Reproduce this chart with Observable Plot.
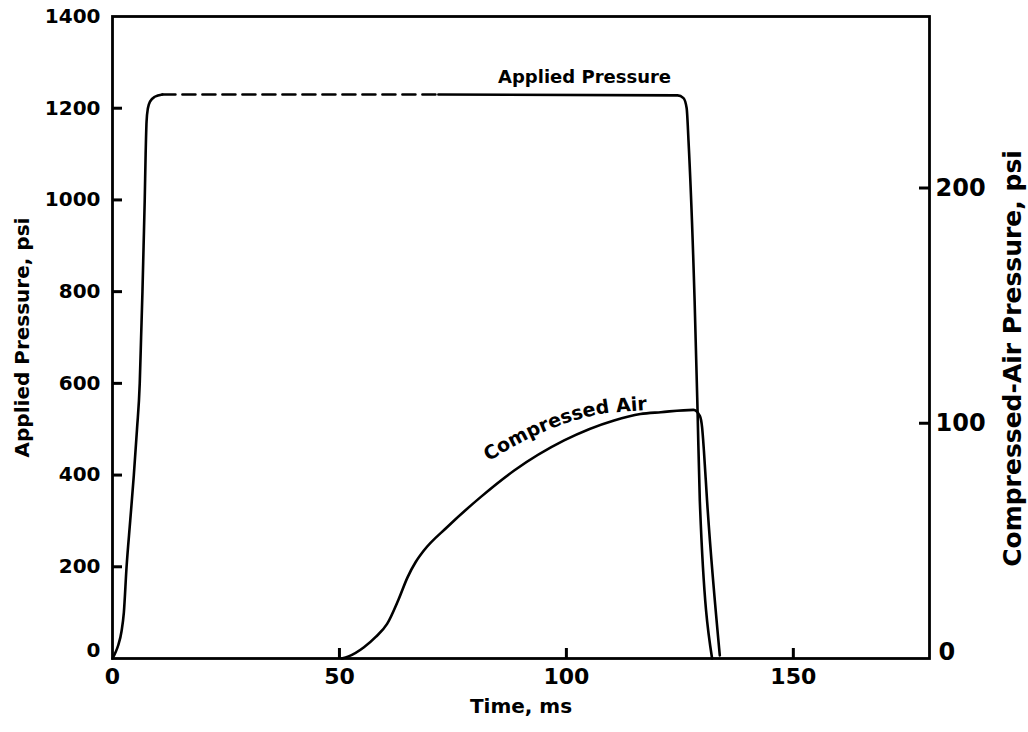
<!DOCTYPE html>
<html>
<head>
<meta charset="utf-8">
<script src="https://cdn.jsdelivr.net/npm/d3@7"></script>
<script src="https://cdn.jsdelivr.net/npm/@observablehq/plot@0.6"></script>
<style>
  html, body { margin: 0; padding: 0; background: #fff; }
</style>
</head>
<body>
<div id="chart"></div>
<script>
// ---- Data ----
const appliedTime = [0, 0.6, 1.3, 2.0, 2.5, 3.1, 3.9, 4.7, 5.4, 6.0, 6.3, 6.6, 6.85, 7.1, 7.3, 7.5, 7.8, 8.3, 9.3, 11, 71.8, 124.5, 125.8, 126.5, 126.9, 128.25, 128.9, 129.4, 132.1];
const appliedPsi  = [0, 12, 30, 60, 100, 200, 300, 400, 500, 600, 700, 800, 900, 1000, 1100, 1170, 1200, 1215, 1225, 1230, 1230, 1228, 1222, 1200, 1130, 780, 540, 343, 0];

const airTime = [50.5, 52, 55.4, 58, 60.5, 63.0, 65.0, 66.8, 68.6, 73.7, 81.1, 88.5, 99.5, 110.5, 116.3, 120.8, 128.0, 129.4, 129.9, 130.3, 131.0, 133.8];
const airPsi  = [0, 0.9, 4.8, 9.2, 14.7, 25.0, 34.5, 41.0, 45.9, 55.8, 68.6, 79.9, 92.7, 101.2, 103.9, 104.7, 105.7, 103.1, 98.2, 88.3, 66.9, 1.3];

const leftTicks  = [0, 200, 400, 600, 800, 1000, 1200, 1400];
const rightTicks = [0, 100, 200];
const timeTicks  = [0, 50, 100, 150];

// right axis (compressed-air psi) expressed on the left axis scale
const airToApplied = 5.13;

const xTitle = "Time, ms";
const yTitle = "Applied Pressure, psi";
const y2Title = "Compressed-Air Pressure, psi";
const appliedLabel = "Applied Pressure";
const airLabel = "Compressed Air";

// ---- Build tables ----
const applied = appliedTime.map((t, i) => ({t, v: appliedPsi[i]}));
const air = airTime.map((t, i) => ({t, v: airPsi[i] * airToApplied}));

const font = "DejaVu Sans, sans-serif";
const lw = 2.6;
const W = 1028, H = 732, mL = 112, mR = 99, mT = 16, mB = 74;
const frameW = W - mL - mR, frameH = H - mT - mB;
const xDomain = [0, 180], yDomain = [0, 1400];
const tickPx = 10;
// tick length converted to data units of each scale
const tickX = tickPx * (xDomain[1] - xDomain[0]) / frameW;
const tickYu = tickPx * (yDomain[1] - yDomain[0]) / frameH;

const chart = Plot.plot({
  width: W,
  height: H,
  marginLeft: mL,
  marginRight: mR,
  marginTop: mT,
  marginBottom: mB,
  x: {domain: xDomain, axis: null},
  y: {domain: yDomain, axis: null},
  style: {fontFamily: font, fontWeight: "bold", background: "white", color: "black"},
  marks: [
    Plot.frame({stroke: "black", strokeWidth: 2.8}),

    // inward tick marks
    Plot.ruleY(leftTicks.filter(d => d > 0 && d < 1400), {y: d => d, x1: xDomain[0], x2: xDomain[0] + tickX, stroke: "black", strokeWidth: 3}),
    Plot.ruleY(rightTicks.filter(d => d > 0), {y: d => d * airToApplied, x1: xDomain[1] - tickX, x2: xDomain[1], stroke: "black", strokeWidth: 3}),
    Plot.ruleX(timeTicks.filter(d => d > 0), {x: d => d, y1: yDomain[0], y2: yDomain[0] + tickYu, stroke: "black", strokeWidth: 3}),

    // tick labels
    Plot.axisY({ticks: leftTicks.filter(d => d > 0), tickFormat: d => String(d), anchor: "left", tickSize: 0, tickPadding: 12, fontSize: 20, fontWeight: "bold", label: null}),
    Plot.axisY({ticks: [0], tickFormat: d => String(d), anchor: "left", tickSize: 0, tickPadding: 12, dy: -8, fontSize: 20, fontWeight: "bold", label: null}),
    Plot.axisY({ticks: rightTicks.filter(d => d > 0).map(d => d * airToApplied), anchor: "right", tickFormat: d => String(Math.round(d / airToApplied)), tickSize: 0, tickPadding: 6, fontSize: 24, fontWeight: "bold", label: null}),
    Plot.axisY({ticks: [0], anchor: "right", tickFormat: d => String(Math.round(d / airToApplied)), tickSize: 0, tickPadding: 9, dy: -6, fontSize: 24, fontWeight: "bold", label: null}),
    Plot.axisX({ticks: timeTicks, tickFormat: d => String(d), anchor: "bottom", tickSize: 0, tickPadding: 10, fontSize: 22, fontWeight: "bold", label: null}),

    // axis titles
    Plot.text([yTitle], {text: d => d, frameAnchor: "left", dx: -84, rotate: -90, lineAnchor: "bottom", textAnchor: "middle", fontSize: 20, fontWeight: "bold"}),
    Plot.text([y2Title], {text: d => d, frameAnchor: "right", dx: 91, dy: 21, rotate: -90, lineAnchor: "bottom", textAnchor: "middle", fontSize: 25, fontWeight: "bold"}),
    Plot.text([xTitle], {text: d => d, frameAnchor: "bottom", dy: 48, lineAnchor: "middle", textAnchor: "middle", fontSize: 20, fontWeight: "bold"}),

    // curves
    Plot.line(applied.filter(d => d.t <= 11), {x: "t", y: "v", curve: "monotone-x", stroke: "black", strokeWidth: lw}),
    Plot.line(applied.filter(d => d.t >= 11 && d.t <= 71.8), {x: "t", y: "v", stroke: "black", strokeWidth: lw, strokeDasharray: "13,7"}),
    Plot.line(applied.filter(d => d.t >= 71.8), {x: "t", y: "v", curve: "monotone-x", stroke: "black", strokeWidth: lw}),
    Plot.line(air, {x: "t", y: "v", curve: "monotone-x", stroke: "black", strokeWidth: lw}),

    // curve label
    Plot.text([appliedLabel], {text: d => d, x: 104, y: 1230, dy: -11, lineAnchor: "bottom", textAnchor: "middle", fontSize: 18, fontWeight: "bold"})
  ]
});

document.getElementById("chart").append(chart);

// "Compressed Air" label following the curve (path built from the data through Plot's scales)
const xs = chart.scale("x"), ys = chart.scale("y");
const labelShift = 8.2; // ms, label sits up-left of the curve
const pts = air.filter(d => d.t >= 75 && d.t <= 128).map(d => [xs.apply(d.t - labelShift), ys.apply(d.v)]);
const svg = d3.select(chart);
const p = svg.append("path")
  .attr("id", "airLabelPath")
  .attr("d", d3.line().curve(d3.curveMonotoneX)(pts))
  .attr("fill", "none")
  .attr("stroke", "none");
const node = p.node();
const L = node.getTotalLength();
const targetX = xs.apply(83.0);
let lo = 0, hi = L;
for (let i = 0; i < 40; i++) {
  const m = (lo + hi) / 2;
  if (node.getPointAtLength(m).x < targetX) lo = m; else hi = m;
}
svg.append("text")
  .attr("font-size", 19)
  .attr("font-weight", "bold")
  .attr("font-family", font)
  .attr("text-anchor", "start")
  .attr("fill", "black")
  .append("textPath")
  .attr("href", "#airLabelPath")
  .attr("startOffset", lo)
  .text(airLabel);
</script>
</body>
</html>
